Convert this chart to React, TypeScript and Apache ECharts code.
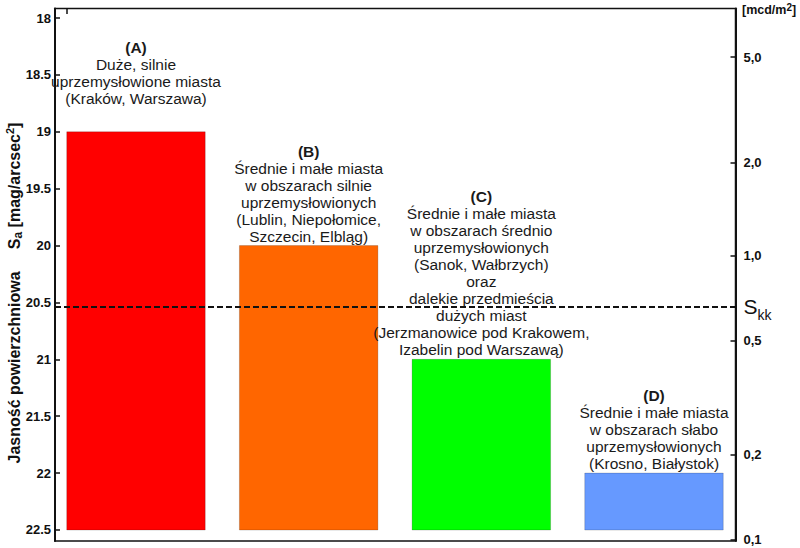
import React, { useEffect, useRef } from "react";
import * as echarts from "echarts";

// ---- data ----
const categories = ["A", "B", "C", "D"];
const sbValues = [19, 20, 21, 22]; // surface brightness S_a [mag/arcsec^2]
const baseValue = 22.5;
const skkValue = 20.535;
const leftTicks = [18, 18.5, 19, 19.5, 20, 20.5, 21, 21.5, 22, 22.5];
const rightTickLabels = ["5,0", "2,0", "1,0", "0,5", "0,2", "0,1"];
const rightTickPositions = [18.343, 19.274, 20.091, 20.838, 21.84, 22.587]; // in mag/arcsec^2
const descriptions = [
  ["(A)", "Duże, silnie", "uprzemysłowione miasta", "(Kraków, Warszawa)"],
  ["(B)", "Średnie i małe miasta", "w obszarach silnie", "uprzemysłowionych", "(Lublin, Niepołomice,", "Szczecin, Elbląg)"],
  ["(C)", "Średnie i małe miasta", "w obszarach średnio", "uprzemysłowionych", "(Sanok, Wałbrzych)", "oraz", "dalekie przedmieścia", "dużych miast", "(Jerzmanowice pod Krakowem,", "Izabelin pod Warszawą)"],
  ["(D)", "Średnie i małe miasta", "w obszarach słabo", "uprzemysłowionych", "(Krosno, Białystok)"],
];

// ---- styles / layout ----
const barColors = ["#ff0000", "#ff6600", "#00ff00", "#6699ff"];
const labelGaps = [25, 1, 1, 1];
const FONT = "'Liberation Sans', Arial, Helvetica, sans-serif";
const Y_MIN = 17.9165;
const Y_MAX = 22.5967;
const X_MIN = -0.469;
const X_MAX = 3.472;
const BAR_W = 0.802;

export default function App() {
  const ref = useRef<HTMLDivElement>(null);

  useEffect(() => {
    if (!ref.current) return;
    const chart = echarts.init(ref.current, null, { renderer: "svg" });

    const option: any = {
      animation: false,
      backgroundColor: "#ffffff",
      grid: {
        left: 55,
        right: 64.5,
        top: 8.5,
        bottom: 7,
        show: true,
        borderColor: "#111",
        borderWidth: 1.5,
        backgroundColor: "transparent",
      },
      xAxis: {
        type: "value",
        min: X_MIN,
        max: X_MAX,
        show: false,
      },
      yAxis: [
        {
          type: "value",
          position: "left",
          inverse: true,
          min: Y_MIN,
          max: Y_MAX,
          splitLine: { show: false },
          axisLine: { show: true, onZero: false, lineStyle: { color: "#111", width: 2 } },
          axisTick: {
            show: true,
            inside: true,
            length: 5,
            customValues: leftTicks,
            lineStyle: { color: "#111", width: 1.5 },
          },
          axisLabel: {
            customValues: leftTicks,
            margin: 4,
            color: "#111",
            fontWeight: "bold",
            fontSize: 13,
            fontFamily: FONT,
          },
        },
        {
          type: "value",
          position: "right",
          inverse: true,
          min: Y_MIN,
          max: Y_MAX,
          splitLine: { show: false },
          axisLine: { show: true, onZero: false, lineStyle: { color: "#111", width: 2 } },
          axisTick: {
            show: true,
            inside: true,
            length: 5,
            customValues: rightTickPositions,
            lineStyle: { color: "#111", width: 1.5 },
          },
          axisLabel: {
            customValues: rightTickPositions,
            margin: 8,
            color: "#111",
            fontWeight: "bold",
            fontSize: 13,
            fontFamily: FONT,
            formatter: (v: number) => {
              let best = 0;
              for (let i = 0; i < rightTickPositions.length; i++) {
                if (Math.abs(rightTickPositions[i] - v) < Math.abs(rightTickPositions[best] - v)) best = i;
              }
              return rightTickLabels[best];
            },
          },
        },
      ],
      series: [
        {
          type: "custom",
          xAxisIndex: 0,
          yAxisIndex: 0,
          data: categories.map((c, i) => [i, sbValues[i]]),
          renderItem: (params: any, api: any) => {
            const idx = api.value(0);
            const top = api.coord([idx, api.value(1)]);
            const base = api.coord([idx, baseValue]);
            const w = api.size([BAR_W, 0])[0];
            const lines = descriptions[idx];
            const text = lines
              .map((l: string, j: number) => (j === 0 ? `{b|${l}}` : l))
              .join("\n");
            return {
              type: "group",
              children: [
                {
                  type: "rect",
                  shape: { x: top[0] - w / 2, y: top[1], width: w, height: base[1] - top[1] },
                  style: { fill: barColors[idx], stroke: "rgba(0,0,0,0.18)", lineWidth: 1 },
                },
                {
                  type: "text",
                  x: top[0],
                  y: top[1] - labelGaps[idx],
                  style: {
                    text,
                    align: "center",
                    verticalAlign: "bottom",
                    fill: "#1a1a1a",
                    fontSize: 15.5,
                    fontFamily: FONT,
                    lineHeight: 17,
                    rich: {
                      b: { fontSize: 15.5, fontWeight: "bold", fontFamily: FONT, lineHeight: 17, fill: "#1a1a1a" },
                    },
                  },
                },
              ],
            };
          },
          markLine: {
            silent: true,
            symbol: ["none", "none"],
            lineStyle: { color: "#111", type: [6, 3], width: 2 },
            label: {
              show: true,
              position: "end",
              distance: 8,
              formatter: "{s|S}{k|kk}",
              rich: {
                s: { fontSize: 21, fontFamily: FONT, color: "#111", lineHeight: 24 },
                k: { fontSize: 14, fontFamily: FONT, color: "#111", verticalAlign: "bottom", lineHeight: 14, padding: [0, 0, -3, 0] },
              },
            },
            data: [{ yAxis: skkValue }],
          },
        },
      ],
      graphic: [
        {
          type: "text",
          x: 14,
          y: 293,
          rotation: Math.PI / 2,
          style: {
            text: "Jasność powierzchniowa     S{sub|a} [mag/arcsec{sup|2}]",
            align: "center",
            verticalAlign: "middle",
            fill: "#111",
            fontSize: 16,
            fontWeight: "bold",
            fontFamily: FONT,
            lineHeight: 20,
            rich: {
              sub: { fontSize: 12, fontWeight: "bold", fontFamily: FONT, verticalAlign: "bottom", lineHeight: 12, fill: "#111" },
              sup: { fontSize: 11, fontWeight: "bold", fontFamily: FONT, verticalAlign: "top", lineHeight: 11, fill: "#111" },
            },
          },
        },
        {
          type: "text",
          x: 742,
          y: 10,
          style: {
            text: "[mcd/m{sup|2}]",
            align: "left",
            verticalAlign: "middle",
            fill: "#111",
            fontSize: 12.5,
            fontWeight: "bold",
            fontFamily: FONT,
            lineHeight: 16,
            rich: {
              sup: { fontSize: 10, fontWeight: "bold", fontFamily: FONT, verticalAlign: "top", lineHeight: 10, fill: "#111" },
            },
          },
        },
        {
          type: "line",
          shape: { x1: 67, y1: 8.5, x2: 67, y2: 14 },
          style: { stroke: "#111", lineWidth: 1.5 },
        },
      ],
    };

    chart.setOption(option);
    return () => chart.dispose();
  }, []);

  return (
    <div
      ref={ref}
      style={{ position: "fixed", left: 0, top: 0, width: 800, height: 548 }}
    />
  );
}
